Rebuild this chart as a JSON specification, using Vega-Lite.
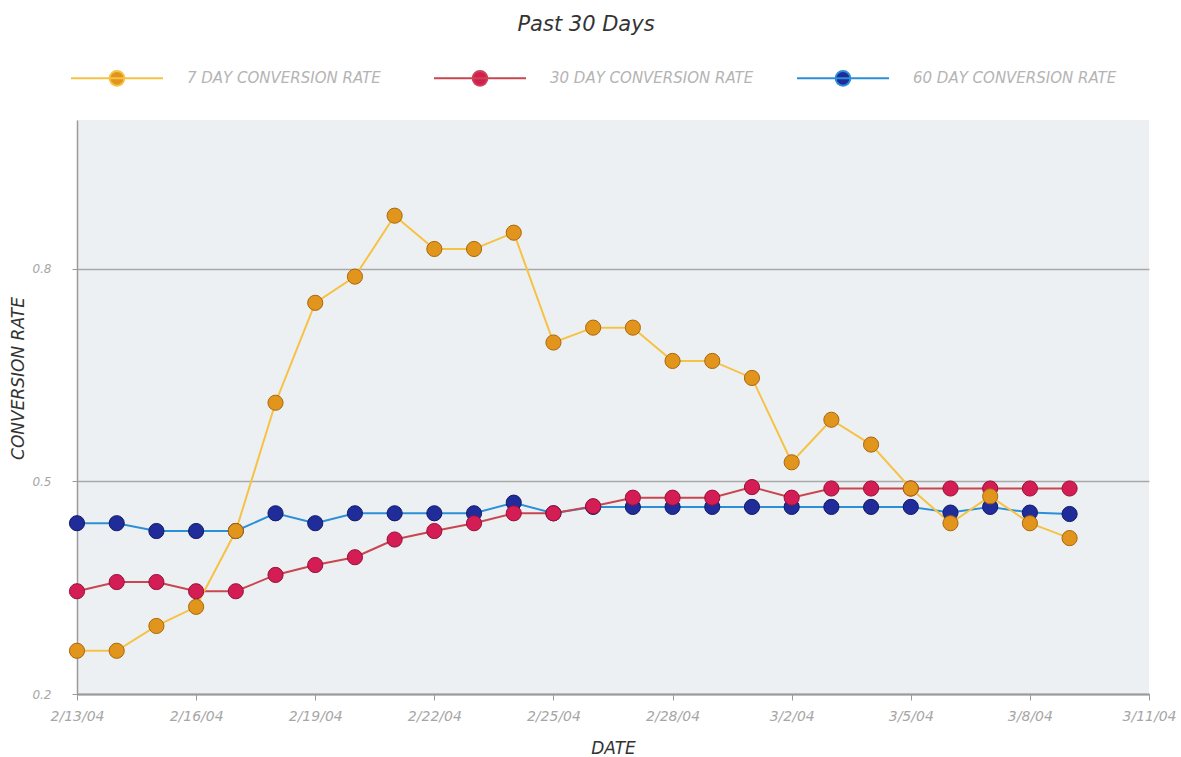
{
  "$schema": "https://vega.github.io/schema/vega-lite/v6.json",
  "width": 1072,
  "height": 574,
  "autosize": {"type": "none"},
  "padding": {"left": 77, "top": 120, "right": 32, "bottom": 63},
  "background": "white",
  "title": {"text": "Past 30 Days", "font": "DejaVu Sans", "fontStyle": "italic", "fontWeight": "normal", "fontSize": 21, "color": "#333333", "frame": "group", "anchor": "middle", "dx": -27, "offset": -4},
  "data": {"values": [
    {"date": "2004-02-13", "series": "60 DAY CONVERSION RATE", "rate": 0.441},
    {"date": "2004-02-14", "series": "60 DAY CONVERSION RATE", "rate": 0.441},
    {"date": "2004-02-15", "series": "60 DAY CONVERSION RATE", "rate": 0.430},
    {"date": "2004-02-16", "series": "60 DAY CONVERSION RATE", "rate": 0.430},
    {"date": "2004-02-17", "series": "60 DAY CONVERSION RATE", "rate": 0.430},
    {"date": "2004-02-18", "series": "60 DAY CONVERSION RATE", "rate": 0.455},
    {"date": "2004-02-19", "series": "60 DAY CONVERSION RATE", "rate": 0.441},
    {"date": "2004-02-20", "series": "60 DAY CONVERSION RATE", "rate": 0.455},
    {"date": "2004-02-21", "series": "60 DAY CONVERSION RATE", "rate": 0.455},
    {"date": "2004-02-22", "series": "60 DAY CONVERSION RATE", "rate": 0.455},
    {"date": "2004-02-23", "series": "60 DAY CONVERSION RATE", "rate": 0.455},
    {"date": "2004-02-24", "series": "60 DAY CONVERSION RATE", "rate": 0.470},
    {"date": "2004-02-25", "series": "60 DAY CONVERSION RATE", "rate": 0.455},
    {"date": "2004-02-26", "series": "60 DAY CONVERSION RATE", "rate": 0.464},
    {"date": "2004-02-27", "series": "60 DAY CONVERSION RATE", "rate": 0.464},
    {"date": "2004-02-28", "series": "60 DAY CONVERSION RATE", "rate": 0.464},
    {"date": "2004-02-29", "series": "60 DAY CONVERSION RATE", "rate": 0.464},
    {"date": "2004-03-01", "series": "60 DAY CONVERSION RATE", "rate": 0.464},
    {"date": "2004-03-02", "series": "60 DAY CONVERSION RATE", "rate": 0.464},
    {"date": "2004-03-03", "series": "60 DAY CONVERSION RATE", "rate": 0.464},
    {"date": "2004-03-04", "series": "60 DAY CONVERSION RATE", "rate": 0.464},
    {"date": "2004-03-05", "series": "60 DAY CONVERSION RATE", "rate": 0.464},
    {"date": "2004-03-06", "series": "60 DAY CONVERSION RATE", "rate": 0.456},
    {"date": "2004-03-07", "series": "60 DAY CONVERSION RATE", "rate": 0.464},
    {"date": "2004-03-08", "series": "60 DAY CONVERSION RATE", "rate": 0.456},
    {"date": "2004-03-09", "series": "60 DAY CONVERSION RATE", "rate": 0.454},
    {"date": "2004-02-13", "series": "30 DAY CONVERSION RATE", "rate": 0.345},
    {"date": "2004-02-14", "series": "30 DAY CONVERSION RATE", "rate": 0.358},
    {"date": "2004-02-15", "series": "30 DAY CONVERSION RATE", "rate": 0.358},
    {"date": "2004-02-16", "series": "30 DAY CONVERSION RATE", "rate": 0.345},
    {"date": "2004-02-17", "series": "30 DAY CONVERSION RATE", "rate": 0.345},
    {"date": "2004-02-18", "series": "30 DAY CONVERSION RATE", "rate": 0.368},
    {"date": "2004-02-19", "series": "30 DAY CONVERSION RATE", "rate": 0.382},
    {"date": "2004-02-20", "series": "30 DAY CONVERSION RATE", "rate": 0.393},
    {"date": "2004-02-21", "series": "30 DAY CONVERSION RATE", "rate": 0.418},
    {"date": "2004-02-22", "series": "30 DAY CONVERSION RATE", "rate": 0.430},
    {"date": "2004-02-23", "series": "30 DAY CONVERSION RATE", "rate": 0.441},
    {"date": "2004-02-24", "series": "30 DAY CONVERSION RATE", "rate": 0.455},
    {"date": "2004-02-25", "series": "30 DAY CONVERSION RATE", "rate": 0.455},
    {"date": "2004-02-26", "series": "30 DAY CONVERSION RATE", "rate": 0.465},
    {"date": "2004-02-27", "series": "30 DAY CONVERSION RATE", "rate": 0.477},
    {"date": "2004-02-28", "series": "30 DAY CONVERSION RATE", "rate": 0.477},
    {"date": "2004-02-29", "series": "30 DAY CONVERSION RATE", "rate": 0.477},
    {"date": "2004-03-01", "series": "30 DAY CONVERSION RATE", "rate": 0.492},
    {"date": "2004-03-02", "series": "30 DAY CONVERSION RATE", "rate": 0.477},
    {"date": "2004-03-03", "series": "30 DAY CONVERSION RATE", "rate": 0.490},
    {"date": "2004-03-04", "series": "30 DAY CONVERSION RATE", "rate": 0.490},
    {"date": "2004-03-05", "series": "30 DAY CONVERSION RATE", "rate": 0.490},
    {"date": "2004-03-06", "series": "30 DAY CONVERSION RATE", "rate": 0.490},
    {"date": "2004-03-07", "series": "30 DAY CONVERSION RATE", "rate": 0.490},
    {"date": "2004-03-08", "series": "30 DAY CONVERSION RATE", "rate": 0.490},
    {"date": "2004-03-09", "series": "30 DAY CONVERSION RATE", "rate": 0.490},
    {"date": "2004-02-13", "series": "7 DAY CONVERSION RATE", "rate": 0.261},
    {"date": "2004-02-14", "series": "7 DAY CONVERSION RATE", "rate": 0.261},
    {"date": "2004-02-15", "series": "7 DAY CONVERSION RATE", "rate": 0.296},
    {"date": "2004-02-16", "series": "7 DAY CONVERSION RATE", "rate": 0.323},
    {"date": "2004-02-17", "series": "7 DAY CONVERSION RATE", "rate": 0.430},
    {"date": "2004-02-18", "series": "7 DAY CONVERSION RATE", "rate": 0.611},
    {"date": "2004-02-19", "series": "7 DAY CONVERSION RATE", "rate": 0.752},
    {"date": "2004-02-20", "series": "7 DAY CONVERSION RATE", "rate": 0.789},
    {"date": "2004-02-21", "series": "7 DAY CONVERSION RATE", "rate": 0.875},
    {"date": "2004-02-22", "series": "7 DAY CONVERSION RATE", "rate": 0.828},
    {"date": "2004-02-23", "series": "7 DAY CONVERSION RATE", "rate": 0.828},
    {"date": "2004-02-24", "series": "7 DAY CONVERSION RATE", "rate": 0.851},
    {"date": "2004-02-25", "series": "7 DAY CONVERSION RATE", "rate": 0.696},
    {"date": "2004-02-26", "series": "7 DAY CONVERSION RATE", "rate": 0.717},
    {"date": "2004-02-27", "series": "7 DAY CONVERSION RATE", "rate": 0.717},
    {"date": "2004-02-28", "series": "7 DAY CONVERSION RATE", "rate": 0.670},
    {"date": "2004-02-29", "series": "7 DAY CONVERSION RATE", "rate": 0.670},
    {"date": "2004-03-01", "series": "7 DAY CONVERSION RATE", "rate": 0.646},
    {"date": "2004-03-02", "series": "7 DAY CONVERSION RATE", "rate": 0.527},
    {"date": "2004-03-03", "series": "7 DAY CONVERSION RATE", "rate": 0.587},
    {"date": "2004-03-04", "series": "7 DAY CONVERSION RATE", "rate": 0.552},
    {"date": "2004-03-05", "series": "7 DAY CONVERSION RATE", "rate": 0.490},
    {"date": "2004-03-06", "series": "7 DAY CONVERSION RATE", "rate": 0.441},
    {"date": "2004-03-07", "series": "7 DAY CONVERSION RATE", "rate": 0.479},
    {"date": "2004-03-08", "series": "7 DAY CONVERSION RATE", "rate": 0.441},
    {"date": "2004-03-09", "series": "7 DAY CONVERSION RATE", "rate": 0.420}
  ]},
  "encoding": {
    "x": {
      "field": "date", "type": "temporal",
      "scale": {"type": "utc", "domain": [{"year": 2004, "month": 2, "date": 13, "utc": true}, {"year": 2004, "month": 3, "date": 11, "utc": true}]},
      "axis": {
        "title": "DATE",
        "values": [
          {"year": 2004, "month": 2, "date": 13, "utc": true},
          {"year": 2004, "month": 2, "date": 16, "utc": true},
          {"year": 2004, "month": 2, "date": 19, "utc": true},
          {"year": 2004, "month": 2, "date": 22, "utc": true},
          {"year": 2004, "month": 2, "date": 25, "utc": true},
          {"year": 2004, "month": 2, "date": 28, "utc": true},
          {"year": 2004, "month": 3, "date": 2, "utc": true},
          {"year": 2004, "month": 3, "date": 5, "utc": true},
          {"year": 2004, "month": 3, "date": 8, "utc": true},
          {"year": 2004, "month": 3, "date": 11, "utc": true}
        ],
        "format": "%-m/%-d/%y",
        "grid": false,
        "labelAngle": 0,
        "labelOverlap": false,
        "labelFlush": false,
        "labelFontSize": 14,
        "tickSize": 6,
        "labelPadding": 9,
        "domainWidth": 2,
        "titleFontSize": 17,
        "titlePadding": 17
      }
    },
    "y": {
      "field": "rate", "type": "quantitative",
      "scale": {"domain": [0.2, 1.01], "nice": false, "zero": false},
      "axis": {
        "title": "CONVERSION RATE",
        "values": [0.2, 0.5, 0.8],
        "format": ".1f",
        "grid": true,
        "gridWidth": 1.5,
        "labelFontSize": 12,
        "tickSize": 5,
        "labelPadding": 21,
        "domainWidth": 1.5,
        "titleFontSize": 17,
        "titlePadding": 4,
        "titleY": 258
      }
    }
  },
  "layer": [
    {
      "mark": {"type": "line", "strokeWidth": 2},
      "encoding": {
        "color": {
          "field": "series", "type": "nominal",
          "scale": {"domain": ["7 DAY CONVERSION RATE", "30 DAY CONVERSION RATE", "60 DAY CONVERSION RATE"], "range": ["#f6c244", "#c9454f", "#2b8fd8"]},
          "legend": {
            "orient": "none",
            "legendX": -7,
            "legendY": -89,
            "direction": "horizontal",
            "columns": 3,
            "gridAlign": "all",
            "columnPadding": 39,
            "title": null,
            "symbolType": "M-1,0H1M-0.16,0A0.16,0.16 0 1,1 0.16,0A0.16,0.16 0 1,1 -0.16,0Z",
            "symbolSize": 8464,
            "symbolStrokeWidth": 2,
            "labelFont": "DejaVu Sans",
            "labelFontStyle": "italic",
            "labelFontSize": 15,
            "labelColor": "#b4b4b4",
            "labelOffset": 23,
            "labelLimit": 400,
            "encode": {"symbols": {"update": {"fill": {"scale": "fill", "field": "value"}, "fillOpacity": {"value": 1}}}}
          }
        }
      }
    },
    {
      "mark": {"type": "point", "filled": true, "size": 230, "opacity": 1, "strokeWidth": 1},
      "encoding": {
        "fill": {
          "field": "series", "type": "nominal",
          "scale": {"domain": ["7 DAY CONVERSION RATE", "30 DAY CONVERSION RATE", "60 DAY CONVERSION RATE"], "range": ["#e2951c", "#d41d55", "#1f2c9a"]},
          "legend": null
        },
        "stroke": {
          "field": "series", "type": "nominal",
          "scale": {"domain": ["7 DAY CONVERSION RATE", "30 DAY CONVERSION RATE", "60 DAY CONVERSION RATE"], "range": ["#a8680c", "#961037", "#111a66"]},
          "legend": null
        }
      }
    }
  ],
  "config": {
    "view": {"fill": "#edf0f3", "stroke": null},
    "axis": {
      "labelFont": "DejaVu Sans",
      "labelFontStyle": "italic",
      "labelColor": "#a6a6a6",
      "titleFont": "DejaVu Sans",
      "titleFontStyle": "italic",
      "titleFontWeight": "normal",
      "titleColor": "#333333",
      "domainColor": "#9a9a9a",
      "tickColor": "#9a9a9a",
      "gridColor": "#a9a9a9"
    }
  }
}
